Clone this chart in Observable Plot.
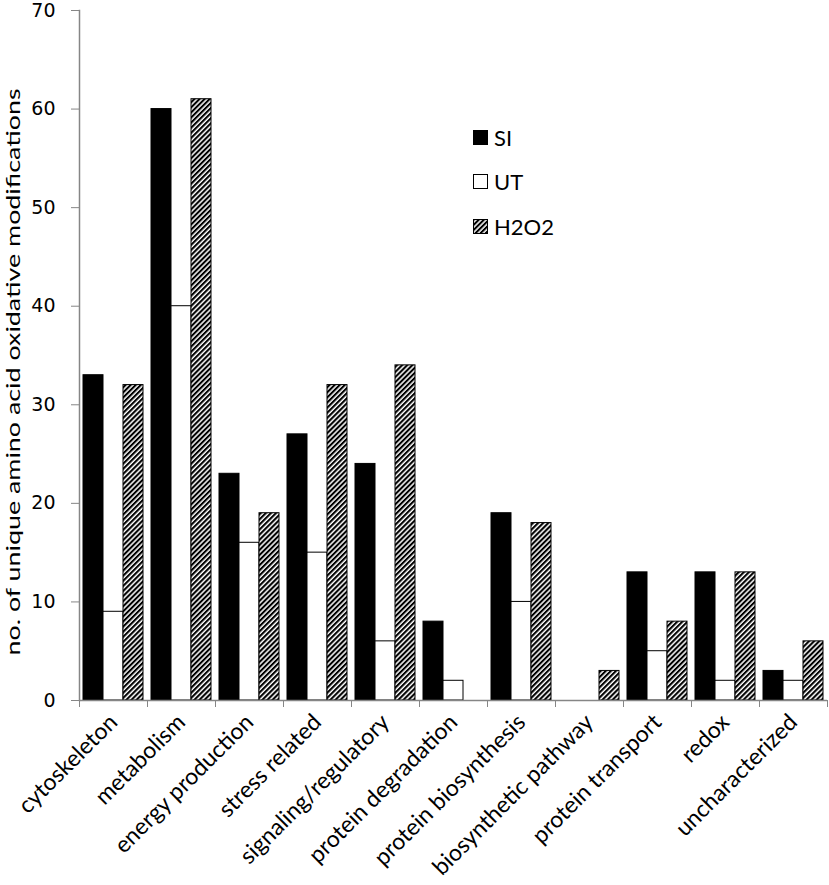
<!DOCTYPE html>
<html>
<head>
<meta charset="utf-8">
<script src="https://cdn.jsdelivr.net/npm/d3@7"></script>
<script src="https://cdn.jsdelivr.net/npm/@observablehq/plot@0.6"></script>
<style>
  body { margin: 0; background: #fff; }
  #chart { position: relative; width: 829px; height: 885px; }
  #legend { position: absolute; left: 473px; top: 126px; font-family: Lato, sans-serif; font-size: 22px; color: #000; }
  .item { display: flex; align-items: center; height: 22px; margin-bottom: 22.5px; }
  .item svg { margin-right: 6px; }
</style>
</head>
<body>
<div id="chart"></div>
<script>
// ---- data ----
const categories = ["cytoskeleton", "metabolism", "energy production", "stress related",
  "signaling/regulatory", "protein degradation", "protein biosynthesis",
  "biosynthetic pathway", "protein transport", "redox", "uncharacterized"];
const series = ["SI", "UT", "H2O2"];
const siValues   = [33, 60, 23, 27, 24, 8, 19, 0, 13, 13, 3];
const utValues   = [9, 40, 16, 15, 6, 2, 10, 0, 5, 2, 2];
const h2o2Values = [32, 61, 19, 32, 34, 0, 18, 3, 8, 13, 6];
const yTicks = [0, 10, 20, 30, 40, 50, 60, 70];
const yLabel = "no. of unique amino acid oxidative modifications";

const table = categories.flatMap((c, i) => [
  {category: c, series: "SI", value: siValues[i]},
  {category: c, series: "UT", value: utValues[i]},
  {category: c, series: "H2O2", value: h2o2Values[i]}
]).filter(d => d.value > 0);

const W = 829, H = 885, mL = 79, mR = 2, mT = 10, mB = 185;
const step = (W - mL - mR) / categories.length;
const axisGray = "#868686";

const svg = Plot.plot({
  width: W, height: H,
  marginLeft: mL, marginRight: mR, marginTop: mT, marginBottom: mB,
  style: {fontFamily: "Lato, sans-serif", background: "white", overflow: "visible"},
  fx: {domain: categories, padding: 0, round: false, label: null, axis: null},
  x: {domain: series, paddingInner: 0, paddingOuter: 0.2, round: false, axis: null},
  y: {domain: [0, 70], label: null, axis: null},
  color: {domain: series, range: ["black", "white", "url(#hatch)"]},
  marks: [
    Plot.barY(table, {fx: "category", x: "series", y: "value", fill: "series", stroke: "black", strokeWidth: 1}),
    Plot.ruleY([0], {stroke: axisGray, strokeWidth: 1.5}),
    Plot.frame({anchor: "left", stroke: axisGray, strokeWidth: 1.5, facetAnchor: "left"}),
    Plot.axisY({ticks: yTicks, tickSize: 8, tickPadding: 16, stroke: axisGray, fill: "black",
      fontSize: 19, fontFamily: "DejaVu Sans, sans-serif", label: null}),
    Plot.text([yLabel], {frameAnchor: "left", rotate: -90, textAnchor: "start", dx: -66, dy: 300,
      fontSize: 20, fontFamily: "Lato, sans-serif", fill: "black", facetAnchor: "left"}),
    Plot.axisFx({anchor: "bottom", tickSize: 7, fill: "none", stroke: axisGray, dx: -step / 2, label: null}),
    Plot.axisFx({anchor: "bottom", tickSize: 7, fill: "none", stroke: axisGray, dx: step / 2, label: null}),
    Plot.axisFx({anchor: "bottom", tickSize: 0, tickRotate: -45, tickPadding: 18, fill: "black", fontSize: 23,
      fontFamily: "Lato, sans-serif", label: null})
  ]
});

svg.insertAdjacentHTML("afterbegin",
  `<defs><pattern id="hatch" patternUnits="userSpaceOnUse" width="3.6" height="3.6" patternTransform="rotate(45)">
     <rect width="3.6" height="3.6" fill="white"></rect>
     <rect width="2.1" height="3.6" fill="black"></rect>
   </pattern></defs>`);

// stretch the rotated y label to the reference length
svg.querySelectorAll("text").forEach(t => {
  if (t.textContent === yLabel) { t.setAttribute("textLength", 567); t.setAttribute("lengthAdjust", "spacingAndGlyphs"); }
});

const chart = document.getElementById("chart");
chart.appendChild(svg);

const legend = document.createElement("div");
legend.id = "legend";
const fills = {SI: "black", UT: "white", H2O2: "url(#hatch)"};
legend.innerHTML = series.map(s =>
  `<div class="item"><svg width="15" height="15"><rect x="0.5" y="0.5" width="14" height="14" fill="${fills[s]}" stroke="black" stroke-width="1"></rect></svg><span>${s}</span></div>`
).join("");
chart.appendChild(legend);
</script>
</body>
</html>
